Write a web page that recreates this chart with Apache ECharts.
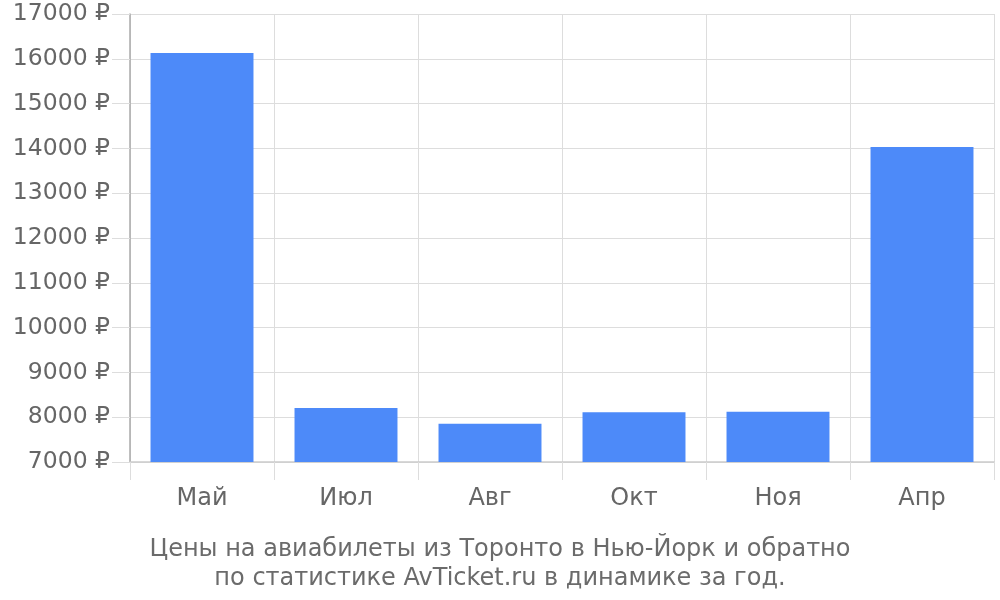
<!DOCTYPE html>
<html><head><meta charset="utf-8">
<script src="https://cdn.jsdelivr.net/npm/echarts@6/dist/echarts.min.js"></script>
<style>html,body{margin:0;padding:0;background:#fff}#c{width:1000px;height:600px}</style>
</head><body><div id="c"></div>
<script>
const categories = ['Май', 'Июл', 'Авг', 'Окт', 'Ноя', 'Апр'];
const prices = [16130, 8205, 7855, 8110, 8120, 14030];
const titleLines = ['Цены на авиабилеты из Торонто в Нью-Йорк и обратно', 'по статистике AvTicket.ru в динамике за год.'];

const chart = echarts.init(document.getElementById('c'));
const font = '"DejaVu Sans", sans-serif';
chart.setOption({
  animation: false,
  textStyle: { fontFamily: font },
  title: {
    text: titleLines.join('\n'),
    left: 'center',
    top: 530,
    textStyle: { fontFamily: font, fontSize: 24, fontWeight: 'normal', color: '#6b6b6b', lineHeight: 29 }
  },
  grid: { left: 130, right: 6, top: 14, bottom: 138, containLabel: false },
  xAxis: {
    type: 'category',
    data: categories,
    axisLine: { lineStyle: { color: '#cccccc', width: 1.5 } },
    axisTick: { show: true, length: 18, lineStyle: { color: '#dddddd' } },
    axisLabel: { fontFamily: font, fontSize: 24, color: '#666666', margin: 25 },
    splitLine: { show: true, lineStyle: { color: '#dddddd' } }
  },
  yAxis: {
    type: 'value',
    min: 7000, max: 17000, interval: 1000,
    axisLine: { show: true, lineStyle: { color: '#aaaaaa', width: 1.5 } },
    axisTick: { show: true, length: 18, lineStyle: { color: '#dddddd' } },
    axisLabel: { fontFamily: font, fontSize: 23.5, color: '#666666', margin: 20, formatter: v => v + ' ₽' },
    splitLine: { show: true, lineStyle: { color: '#dddddd' } }
  },
  series: [{
    type: 'bar',
    data: prices,
    barWidth: '71.5%',
    itemStyle: { color: '#4d8af9' }
  }]
});
</script></body></html>
